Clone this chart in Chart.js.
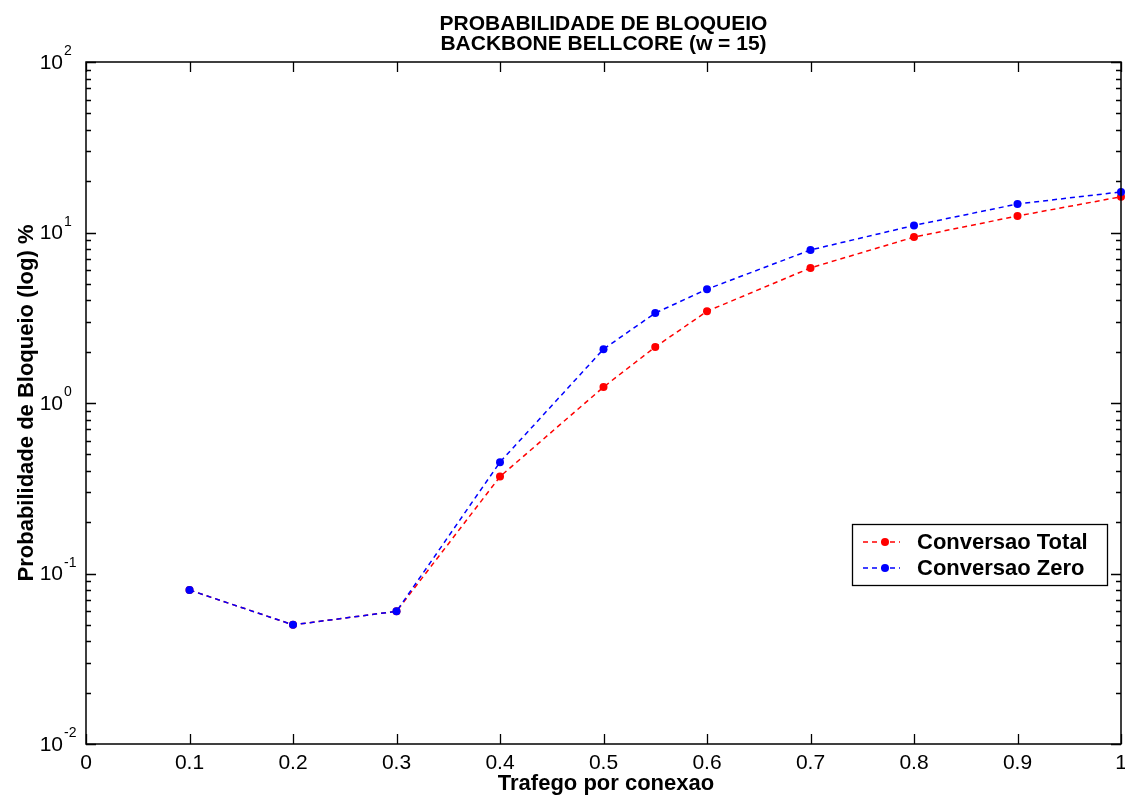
<!DOCTYPE html>
<html>
<head>
<meta charset="utf-8">
<title>Probabilidade de Bloqueio</title>
<script src="https://cdn.jsdelivr.net/npm/chart.js@4/dist/chart.umd.min.js"></script>
<style>
  html, body { margin: 0; padding: 0; background: #ffffff; }
  #wrap { width: 1125px; height: 800px; position: relative; }
</style>
</head>
<body>
<div id="wrap"><canvas id="chart" width="1125" height="800"></canvas></div>
<script>
// Traffic per connection (x) and blocking probability in % (y, log scale)
const trafego = [0.1, 0.2, 0.3, 0.4, 0.5, 0.55, 0.6, 0.7, 0.8, 0.9, 1.0];
const conversaoTotal = [0.08, 0.05, 0.06, 0.37, 1.24, 2.13, 3.45, 6.2, 9.4, 12.5, 16.2];
const conversaoZero  = [0.08, 0.05, 0.06, 0.45, 2.07, 3.37, 4.65, 7.9, 11.0, 14.7, 17.3];

const seriesLabels = ['Conversao Total', 'Conversao Zero'];
const seriesColors = ['#ff0000', '#0000ff'];

const xTicks = [0, 0.1, 0.2, 0.3, 0.4, 0.5, 0.6, 0.7, 0.8, 0.9, 1];
const xTickLabels = ['0', '0.1', '0.2', '0.3', '0.4', '0.5', '0.6', '0.7', '0.8', '0.9', '1'];
const yDecades = [-2, -1, 0, 1, 2];

const titleLines = ['PROBABILIDADE DE BLOQUEIO', 'BACKBONE BELLCORE (w = 15)'];
const xTitle = 'Trafego por conexao';
const yTitle = 'Probabilidade de Bloqueio (log) %';

function points(ys) {
  return trafego.map((x, i) => ({ x: x, y: ys[i] }));
}

function text(ctx, str, x, y, font, align, baseline) {
  ctx.save();
  ctx.font = font;
  ctx.fillStyle = '#000';
  ctx.textAlign = align;
  ctx.textBaseline = baseline;
  ctx.fillText(str, x, y);
  ctx.restore();
}

const BOLD = 'bold 21px "Liberation Sans", Arial, sans-serif';
const BOLD22 = 'bold 22px "Liberation Sans", Arial, sans-serif';
const REG = '21px "Liberation Sans", Arial, sans-serif';

// Axes box, inward ticks, tick labels, titles and legend
const framePlugin = {
  id: 'frame',
  afterDraw(chart) {
    const ctx = chart.ctx;
    const a = chart.chartArea;
    const xs = chart.scales.x;
    const ys = chart.scales.y;

    ctx.save();
    ctx.strokeStyle = '#000';
    ctx.lineWidth = 1.5;
    ctx.strokeRect(a.left, a.top, a.right - a.left, a.bottom - a.top);

    ctx.lineWidth = 1.3;
    ctx.beginPath();
    // x ticks (bottom and top)
    xTicks.forEach(v => {
      const px = Math.round(xs.getPixelForValue(v)) + 0.5;
      ctx.moveTo(px, a.bottom); ctx.lineTo(px, a.bottom - 10);
      ctx.moveTo(px, a.top); ctx.lineTo(px, a.top + 10);
    });
    // y ticks: decades long, minors short (left and right)
    yDecades.forEach((d, i) => {
      const base = Math.pow(10, d);
      const py = Math.round(ys.getPixelForValue(base)) + 0.5;
      ctx.moveTo(a.left, py); ctx.lineTo(a.left + 10, py);
      ctx.moveTo(a.right, py); ctx.lineTo(a.right - 10, py);
      if (i < yDecades.length - 1) {
        for (let m = 2; m <= 9; m++) {
          const pm = Math.round(ys.getPixelForValue(base * m)) + 0.5;
          ctx.moveTo(a.left, pm); ctx.lineTo(a.left + 5, pm);
          ctx.moveTo(a.right, pm); ctx.lineTo(a.right - 5, pm);
        }
      }
    });
    ctx.stroke();
    ctx.restore();

    // x tick labels
    xTicks.forEach((v, i) => {
      text(ctx, xTickLabels[i], xs.getPixelForValue(v), 753, REG, 'center', 'top');
    });
    // y tick labels: 10 with superscript exponent
    yDecades.forEach(d => {
      const py = ys.getPixelForValue(Math.pow(10, d));
      text(ctx, '10', 63, py + 1, REG, 'right', 'middle');
      text(ctx, String(d), 64, py - 7, '14px "Liberation Sans", Arial, sans-serif', 'left', 'alphabetic');
    });

    // titles
    const cx = (a.left + a.right) / 2;
    text(ctx, titleLines[0], cx, 30, BOLD, 'center', 'alphabetic');
    text(ctx, titleLines[1], cx, 50, BOLD, 'center', 'alphabetic');
    text(ctx, xTitle, 606, 790, BOLD22, 'center', 'alphabetic');

    ctx.save();
    ctx.translate(33, 403);
    ctx.rotate(-Math.PI / 2);
    text(ctx, yTitle, 0, 0, BOLD22, 'center', 'alphabetic');
    ctx.restore();

    // legend
    const lx = 852, ly = 524, lw = 255, lh = 61;
    ctx.save();
    ctx.fillStyle = '#fff';
    ctx.fillRect(lx, ly, lw, lh);
    ctx.strokeStyle = '#000';
    ctx.lineWidth = 1.3;
    ctx.strokeRect(lx + 0.5, ly + 0.5, lw, lh);
    seriesLabels.forEach((lab, i) => {
      const ry = 542 + i * 26;
      ctx.strokeStyle = seriesColors[i];
      ctx.lineWidth = 1.5;
      ctx.setLineDash([5, 4]);
      ctx.beginPath();
      ctx.moveTo(863, ry); ctx.lineTo(900, ry);
      ctx.stroke();
      ctx.setLineDash([]);
      ctx.fillStyle = seriesColors[i];
      ctx.beginPath();
      ctx.arc(885, ry, 4, 0, Math.PI * 2);
      ctx.fill();
      text(ctx, lab, 917, ry + 1, BOLD22, 'left', 'middle');
    });
    ctx.restore();
  }
};

new Chart(document.getElementById('chart'), {
  type: 'line',
  data: {
    datasets: [
      {
        label: seriesLabels[0],
        data: points(conversaoTotal),
        borderColor: seriesColors[0],
        backgroundColor: seriesColors[0],
        borderWidth: 1.5,
        borderDash: [5, 4],
        pointRadius: 4,
        pointBorderWidth: 0,
        fill: false,
        tension: 0,
        clip: false,
        order: 1
      },
      {
        label: seriesLabels[1],
        data: points(conversaoZero),
        borderColor: seriesColors[1],
        backgroundColor: seriesColors[1],
        borderWidth: 1.5,
        borderDash: [5, 4],
        pointRadius: 4,
        pointBorderWidth: 0,
        fill: false,
        tension: 0,
        clip: false,
        order: 0
      }
    ]
  },
  options: {
    responsive: false,
    animation: false,
    layout: { padding: { left: 86, right: 4, top: 62, bottom: 56 } },
    plugins: {
      legend: { display: false },
      title: { display: false },
      tooltip: { enabled: false }
    },
    scales: {
      x: { type: 'linear', min: 0, max: 1, display: false },
      y: { type: 'logarithmic', min: 0.01, max: 100, display: false }
    }
  },
  plugins: [framePlugin]
});
</script>
</body>
</html>
